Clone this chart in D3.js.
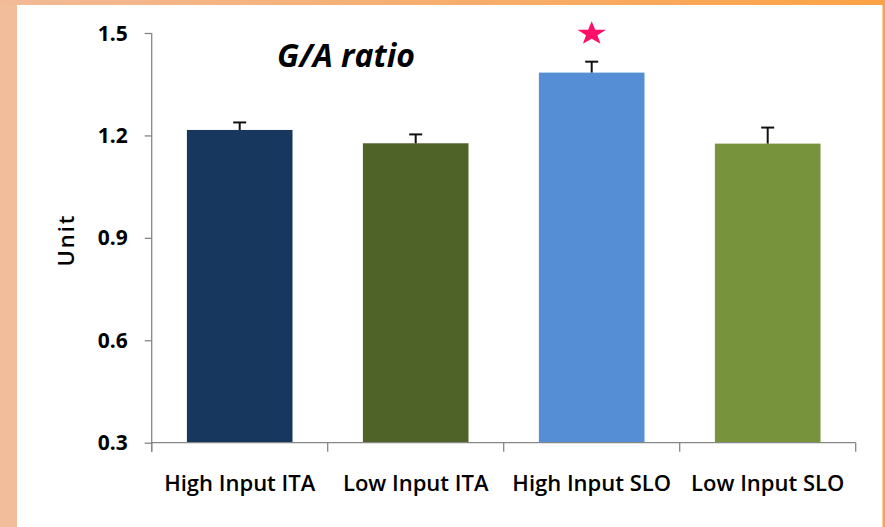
<!DOCTYPE html>
<html>
<head>
<meta charset="utf-8">
<script src="https://cdn.jsdelivr.net/npm/d3@7"></script>
<style>
  html, body { margin: 0; padding: 0; background: #fff; }
  svg { display: block; }
  .tick text { fill: #000; }
</style>
</head>
<body>
<svg id="chart" width="885" height="527"></svg>
<script>
// G/A ratio by production system (mean with upper error)
const categories = ["High Input ITA", "Low Input ITA", "High Input SLO", "Low Input SLO"];
const means = [1.216, 1.177, 1.384, 1.176];
const errors = [0.022, 0.026, 0.032, 0.047];
const colors = ["#17375E", "#4F6228", "#558ED5", "#77933C"];
const yTicks = [0.3, 0.6, 0.9, 1.2, 1.5];
const significant = [false, false, true, false];

const svg = d3.select("#chart");
const W = 885, H = 527;

// slide frame: peach band on the left, gradient strip on top, orange edge on the right
const defs = svg.append("defs");
const grad = defs.append("linearGradient").attr("id", "topBand")
  .attr("x1", "0%").attr("x2", "100%").attr("y1", "0%").attr("y2", "0%");
grad.append("stop").attr("offset", "0%").attr("stop-color", "#F2BA97");
grad.append("stop").attr("offset", "100%").attr("stop-color", "#FBA245");

svg.append("rect").attr("width", W).attr("height", H).attr("fill", "#fff");
svg.append("rect").attr("x", 0).attr("y", 0).attr("width", 17).attr("height", H).attr("fill", "#F1BD9B");
svg.append("rect").attr("x", 0).attr("y", 0).attr("width", W).attr("height", 5).attr("fill", "url(#topBand)");
svg.append("rect").attr("x", 882.5).attr("y", 0).attr("width", 2.5).attr("height", H).attr("fill", "#FBA245");

const plotLeft = 151.7, plotRight = 855.7, plotTop = 33, plotBottom = 442.7;

const x = d3.scaleBand().domain(categories).range([plotLeft, plotRight])
  .paddingInner(0.4).paddingOuter(0.2);
const y = d3.scaleLinear().domain([0.3, 1.5]).range([plotBottom, plotTop]);

const axisColor = "#868686";
const fontFam = "'Open Sans', 'DejaVu Sans', sans-serif";

// bars
svg.append("g").selectAll("rect").data(categories).join("rect")
  .attr("x", d => x(d))
  .attr("y", (d, i) => y(means[i]))
  .attr("width", x.bandwidth())
  .attr("height", (d, i) => y(0.3) - y(means[i]))
  .attr("fill", (d, i) => colors[i]);

// upper error bars
const eb = svg.append("g").attr("stroke", "#111").attr("stroke-width", 2);
categories.forEach((c, i) => {
  const cx = x(c) + x.bandwidth() / 2;
  eb.append("line").attr("x1", cx).attr("x2", cx)
    .attr("y1", y(means[i])).attr("y2", y(means[i] + errors[i]));
  eb.append("line").attr("x1", cx - 6.5).attr("x2", cx + 6.5)
    .attr("y1", y(means[i] + errors[i])).attr("y2", y(means[i] + errors[i]));
});

// y axis
const yAxis = svg.append("g").attr("transform", `translate(${plotLeft},0)`)
  .call(d3.axisLeft(y).tickValues(yTicks).tickFormat(d3.format(".1f"))
    .tickSize(7).tickSizeOuter(0).tickPadding(17));
yAxis.select(".domain").remove();
yAxis.selectAll(".tick line").attr("stroke", axisColor).attr("stroke-width", 1.3);
yAxis.selectAll("text").attr("font-family", fontFam).attr("font-weight", 700)
  .attr("font-size", 21).attr("dy", "0.34em");
svg.append("line").attr("x1", plotLeft).attr("x2", plotLeft).attr("y1", plotTop).attr("y2", plotBottom + 9)
  .attr("stroke", axisColor).attr("stroke-width", 1.3);

// x axis with tick marks between categories
const xAxis = svg.append("g").attr("transform", `translate(0,${plotBottom})`)
  .call(d3.axisBottom(x).tickSize(0).tickPadding(33));
xAxis.select(".domain").remove();
xAxis.selectAll("text").attr("font-family", fontFam).attr("font-weight", 600)
  .attr("font-size", 22);
svg.append("line").attr("x1", plotLeft).attr("x2", plotRight).attr("y1", plotBottom).attr("y2", plotBottom)
  .attr("stroke", axisColor).attr("stroke-width", 1.3);
const boundaries = categories.map(c => x(c) - x.step() * x.paddingOuter()).concat([plotRight]);
svg.append("g").selectAll("line").data(boundaries).join("line")
  .attr("x1", d => d).attr("x2", d => d)
  .attr("y1", plotBottom).attr("y2", plotBottom + 9)
  .attr("stroke", axisColor).attr("stroke-width", 1.3);

// y axis title
svg.append("text")
  .attr("transform", "translate(74,240) rotate(-90)")
  .attr("text-anchor", "middle")
  .attr("font-family", fontFam).attr("font-weight", 600).attr("font-size", 22)
  .attr("letter-spacing", 2)
  .text("Unit");

// chart title
svg.append("text")
  .attr("x", 346).attr("y", 67)
  .attr("text-anchor", "middle")
  .attr("font-family", fontFam).attr("font-weight", 700).attr("font-style", "italic")
  .attr("font-size", 32)
  .text("G/A ratio");

// significance star above the marked bar
const star = (cx, cy, rx, ry) => {
  const pts = [];
  for (let k = 0; k < 10; k++) {
    const a = -Math.PI / 2 + k * Math.PI / 5;
    const r = k % 2 === 0 ? 1 : 0.4;
    pts.push([cx + Math.cos(a) * rx * r, cy + Math.sin(a) * ry * r]);
  }
  return "M" + pts.map(p => p.join(",")).join("L") + "Z";
};
categories.forEach((c, i) => {
  if (!significant[i]) return;
  const cx = x(c) + x.bandwidth() / 2;
  svg.append("path").attr("d", star(cx, y(means[i] + errors[i]) - 28, 15, 12.5))
    .attr("fill", "#FF0F6A");
});
</script>
</body>
</html>
